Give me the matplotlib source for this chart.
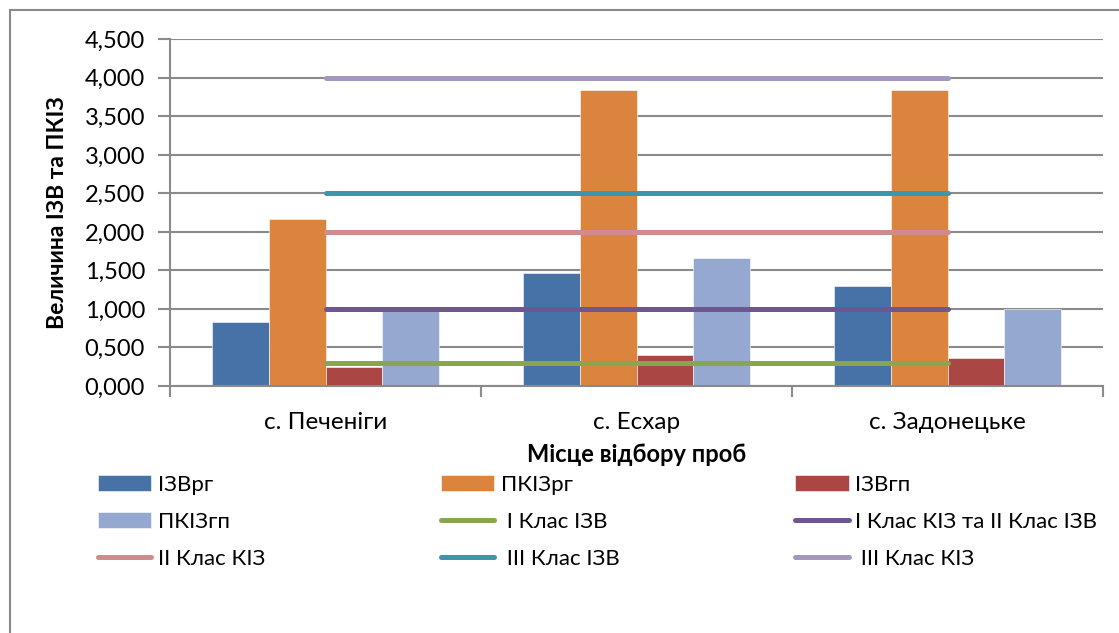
import numpy as np
import matplotlib
matplotlib.use('Agg')
from matplotlib import pyplot as plt
from matplotlib.patches import Rectangle

plt.rcParams['font.family'] = ['Lato', 'DejaVu Sans']

# sampling sites and measured indices
sites = ['с. Печеніги', 'с. Есхар', 'с. Задонецьке']
bar_names = ['ІЗВрг', 'ПКІЗрг', 'ІЗВгп', 'ПКІЗгп']
izv_rg = [0.83, 1.47, 1.30]
pkiz_rg = [2.17, 3.84, 3.84]
izv_gp = [0.25, 0.40, 0.36]
pkiz_gp = [0.98, 1.66, 1.00]
bar_colors = ['#4672A8', '#DB843D', '#AA4643', '#95A9D0']

# quality class thresholds
class_names = [' І Клас ІЗВ', 'І Клас КІЗ та ІІ Клас ІЗВ', 'ІІ Клас КІЗ', ' ІІІ Клас ІЗВ', ' ІІІ Клас КІЗ']
class_values = [0.3, 1.0, 2.0, 2.5, 4.0]
class_colors = ['#89A54E', '#6E5690', '#D08C8C', '#3D96AE', '#A598BE']

yticks = np.arange(0, 4.51, 0.5)
ytick_labels = ['{:.3f}'.format(v).replace('.', ',') for v in yticks]

fig = plt.figure(figsize=(11.19, 6.33), dpi=100)
W, H = 1119, 633
ax = fig.add_axes([170 / W, 1 - 386 / H, (1103 - 170) / W, (386 - 39.3) / H])

x = np.arange(len(sites))
w = 1 / 5.5
series = [izv_rg, pkiz_rg, izv_gp, pkiz_gp]
handles = []
for i, (vals, name, col) in enumerate(zip(series, bar_names, bar_colors)):
    b = ax.bar(x + (i - 1.5) * w, vals, width=w, color=col, label=name,
               edgecolor='white', linewidth=0.4, zorder=2)
    handles.append(b)

for val, name, col in zip(class_values, class_names, class_colors):
    ln, = ax.plot([x[0], x[-1]], [val, val], color=col, linewidth=3.6,
                  solid_capstyle='round', label=name, zorder=3)
    handles.append(ln)

ax.set_xlim(-0.5, 2.5)
ax.set_ylim(0, 4.5)
ax.set_yticks(yticks)
ax.set_yticklabels(ytick_labels, fontsize=17)
ax.yaxis.grid(True, color='#8A8A8A', linewidth=1.5, zorder=0)
ax.set_axisbelow(True)

ax.set_xticks(x)
ax.set_xticklabels(sites, fontsize=17.5)
ax.set_xticks([-0.5, 0.5, 1.5, 2.5], minor=True)
ax.tick_params(axis='x', which='major', length=0, pad=19)
ax.tick_params(axis='x', which='minor', length=8, width=1.5, color='#8A8A8A')
ax.tick_params(axis='y', length=9, width=1.5, color='#8A8A8A', pad=9)

for s in ['top', 'right']:
    ax.spines[s].set_visible(False)
for s in ['left', 'bottom']:
    ax.spines[s].set_color('#8A8A8A')
    ax.spines[s].set_linewidth(1.5)

ax.set_ylabel('Величина ІЗВ та ПКІЗ', fontsize=16.5, fontweight='bold', labelpad=12)
ax.set_xlabel('Місце відбору проб', fontsize=17, fontweight='bold', labelpad=7)

# legend is filled row by row
order = [0, 3, 6, 1, 4, 7, 2, 5, 8]
labels = bar_names + class_names
fig.legend([handles[i] for i in order], [labels[i] for i in order],
           ncol=3, loc='upper left', bbox_to_anchor=(78 / W, 1 - 455 / H),
           frameon=False, fontsize=16, handlelength=2.4, handleheight=0.7,
           handletextpad=0.3, columnspacing=7.9, labelspacing=0.76)

# chart frame
fig.patches.append(Rectangle((9.5 / W, -0.2), 1.2, 1.2 - 10 / H, transform=fig.transFigure,
                             fill=False, edgecolor='#8A8A8A', linewidth=1.5))

fig.savefig('out.png', dpi=100)
